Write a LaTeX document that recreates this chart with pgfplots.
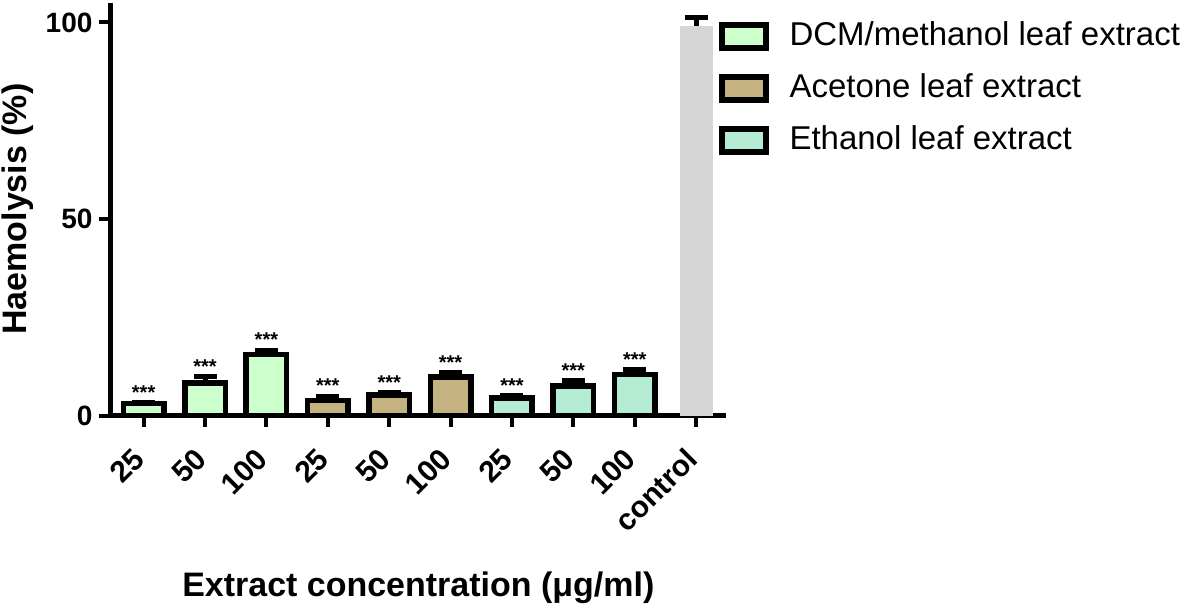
\documentclass[border=0pt]{standalone}
\usepackage{fontspec}
\setmainfont{Liberation Sans}
\usepackage{pgfplots}
\pgfplotsset{compat=1.18}
\definecolor{dcm}{RGB}{204,255,204}
\definecolor{acet}{RGB}{196,178,128}
\definecolor{etoh}{RGB}{180,236,212}
\definecolor{ctrl}{RGB}{214,214,214}
\begin{document}
\begin{tikzpicture}
\begin{axis}[
  scale only axis, width=308pt, height=206.5pt,
  xmin=-0.54, xmax=9.49, ymin=0, ymax=105,
  axis x line=bottom, axis y line=left,
  axis line style={-, line width=2.75pt, black},
  xtick={0,...,9},
  xticklabels={25,50,100,25,50,100,25,50,100,control},
  ytick={0,50,100},
  tick align=outside,
  major tick length=5.5pt,
  every tick/.style={black, line width=2pt},
  /pgf/number format/assume math mode=true,
  ticklabel style={font=\bfseries\fontsize{14}{14}\selectfont},
  xticklabel style={font=\bfseries\fontsize{15}{15}\selectfont, yshift=-5pt, xshift=-6pt, rotate=45, anchor=north east},
  xlabel={Extract concentration (μg/ml)},
  ylabel={Haemolysis (\%)},
  label style={font=\bfseries\fontsize{17}{17}\selectfont, inner sep=1pt},
  xlabel style={at={(axis description cs:0.5,0)}, anchor=north, yshift=-77pt},
  ylabel style={yshift=1.5pt},
  legend style={at={(0.987,0.958)}, anchor=north west, draw=none, fill=none,
    font=\fontsize{16.5}{16.5}\selectfont, row sep=10pt, inner sep=0pt,
    nodes={inner sep=0.5pt, text height=12pt, text depth=3pt},
    /tikz/every odd column/.style={column sep=10pt}},
  legend cell align=left,
  legend image code/.code={\draw[#1, line width=3pt] (0pt,-5.75pt) rectangle (22pt,5.75pt);},
  error bars/error bar style={line width=2.5pt, black},
  error bars/error mark options={rotate=90, mark size=5.75pt, line width=2.5pt, black},
]
\addplot[ybar, bar width=20.25pt, bar shift=0pt, fill=dcm, draw=black, line width=2.75pt,
  error bars/.cd, y dir=plus, y explicit]
  coordinates {(0,3.0) +- (0,0.3) (1,8.25) +- (0,1.7) (2,15.5) +- (0,1.1)};
\addlegendentry{DCM/methanol leaf extract}
\addplot[ybar, bar width=20.25pt, bar shift=0pt, fill=acet, draw=black, line width=2.75pt,
  error bars/.cd, y dir=plus, y explicit]
  coordinates {(3,3.8) +- (0,1.1) (4,5.2) +- (0,0.6) (5,9.8) +- (0,1.1)};
\addlegendentry{Acetone leaf extract}
\addplot[ybar, bar width=20.25pt, bar shift=0pt, fill=etoh, draw=black, line width=2.75pt,
  error bars/.cd, y dir=plus, y explicit]
  coordinates {(6,4.4) +- (0,0.7) (7,7.5) +- (0,1.3) (8,10.5) +- (0,1.1)};
\addlegendentry{Ethanol leaf extract}
\addplot[ybar, bar width=16.5pt, bar shift=0pt, fill=ctrl, draw=none, forget plot,
  error bars/.cd, y dir=plus, y explicit]
  coordinates {(9,99.2) +- (0,2.0)};
\addplot[draw=none, mark=none, forget plot, nodes near coords={***},
  nodes near coords style={anchor=south, font=\bfseries\fontsize{10}{10}\selectfont, inner sep=0pt, yshift=1.5pt}]
  coordinates {(0,3.3) (1,9.95) (2,16.6) (3,4.9) (4,5.8) (5,10.9) (6,5.1) (7,8.8) (8,11.6)};
\end{axis}
\end{tikzpicture}
\end{document}
